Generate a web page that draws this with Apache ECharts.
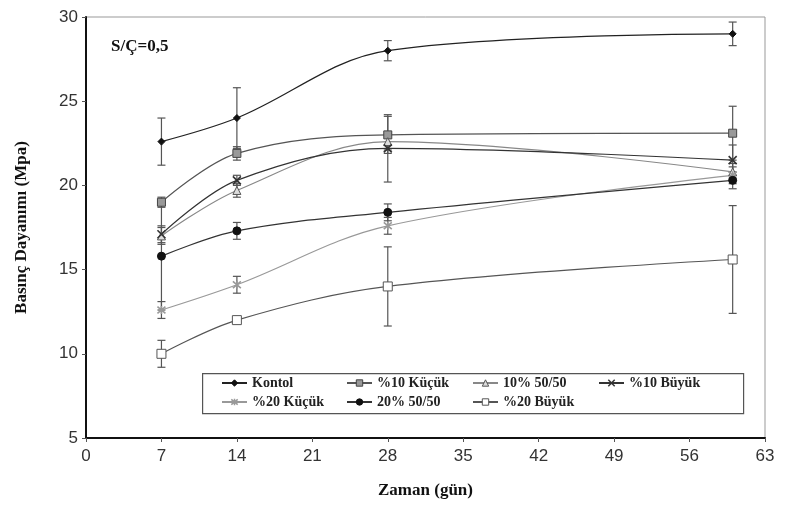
<!DOCTYPE html>
<html><head><meta charset="utf-8">
<script src="https://cdn.jsdelivr.net/npm/echarts@6/dist/echarts.min.js"></script>
<style>html,body{margin:0;padding:0;background:#fff}#c{width:788px;height:511px}</style>
</head><body><div id="c"></div>
<script>
const days = [7, 14, 28, 60];
const names = ['Kontol', '%10 Küçük', '10% 50/50', '%10 Büyük', '%20 Küçük', '20% 50/50', '%20 Büyük'];
const kontrol = [22.6, 24.0, 28.0, 29.0];
const kucuk10 = [19.0, 21.9, 23.0, 23.1];
const mix10 = [17.0, 19.7, 22.6, 20.8];
const buyuk10 = [17.1, 20.3, 22.2, 21.5];
const kucuk20 = [12.6, 14.1, 17.6, 20.6];
const mix20 = [15.8, 17.3, 18.4, 20.3];
const buyuk20 = [10.0, 12.0, 14.0, 15.6];
const kontrolErr = [1.4, 1.8, 0.6, 0.7];
const kucuk10Err = [0.3, 0.4, 1.1, 1.6];
const mix10Err = [0.5, 0.4, 0.5, 0.5];
const buyuk10Err = [0.5, 0.3, 2.0, 0.9];
const kucuk20Err = [0.5, 0.5, 0.5, 0.5];
const mix20Err = [3.2, 0.5, 0.5, 0.5];
const buyuk20Err = [0.8, 0.2, 2.35, 3.2];

const values = [kontrol, kucuk10, mix10, buyuk10, kucuk20, mix20, buyuk20];
const errs = [kontrolErr, kucuk10Err, mix10Err, buyuk10Err, kucuk20Err, mix20Err, buyuk20Err];
const lineColors = ['#222', '#555', '#888', '#333', '#999', '#333', '#555'];
const symbols = ['diamond', 'rect', 'triangle', 'path://M0,0L10,10M10,0L0,10', 'path://M0,0L10,10M10,0L0,10M5,-1L5,11', 'circle', 'rect'];
const symSizes = [7, 8, 8, 8, 8, 8, 9];
const symFill = ['#111', '#999', '#ddd', '#333', '#999', '#111', '#fff'];
const symBorder = ['#111', '#444', '#555', '#333', '#999', '#111', '#555'];
const legendPos = [[221, 376], [346, 376], [472, 376], [598, 376], [221, 395], [346, 395], [472, 395]];

const series = [];
names.forEach((n, i) => {
  series.push({
    type: 'custom', name: n + '_err', silent: true, z: 1,
    data: days.map((d, k) => [d, values[i][k] - errs[i][k], values[i][k] + errs[i][k]]),
    renderItem: (params, api) => {
      const lo = api.coord([api.value(0), api.value(1)]);
      const hi = api.coord([api.value(0), api.value(2)]);
      const w = 4;
      return {type: 'group', children: [
        {type: 'line', shape: {x1: lo[0], y1: lo[1], x2: hi[0], y2: hi[1]}, style: {stroke: '#555', lineWidth: 1.2}},
        {type: 'line', shape: {x1: lo[0]-w, y1: lo[1], x2: lo[0]+w, y2: lo[1]}, style: {stroke: '#555', lineWidth: 1.2}},
        {type: 'line', shape: {x1: hi[0]-w, y1: hi[1], x2: hi[0]+w, y2: hi[1]}, style: {stroke: '#555', lineWidth: 1.2}}
      ]};
    }
  });
  series.push({
    type: 'line', name: n, smooth: 0.35, z: 3,
    data: days.map((d, k) => [d, values[i][k]]),
    symbol: symbols[i], symbolSize: symSizes[i], showSymbol: true,
    lineStyle: {color: lineColors[i], width: 1.2},
    itemStyle: {color: symFill[i], borderColor: symBorder[i], borderWidth: (i === 3 || i === 4) ? 1.6 : 1},
    emphasis: {disabled: true}
  });
});

const legends = names.map((n, i) => ({
  data: [n], left: legendPos[i][0], top: legendPos[i][1], padding: 0, z: 10,
  itemWidth: 25, itemHeight: 8, selectedMode: false,
  itemStyle: {color: symFill[i], borderColor: symBorder[i], borderWidth: (i === 3 || i === 4) ? 1.5 : 1},
  textStyle: {fontFamily: 'Liberation Serif', fontWeight: 'bold', fontSize: 14, color: '#222'}
}));

const chart = echarts.init(document.getElementById('c'), null, {renderer: 'canvas'});
chart.setOption({
  animation: false,
  backgroundColor: '#fff',
  title: {text: 'S/Ç=0,5', left: 106, top: 33, textStyle: {fontFamily: 'Liberation Serif', fontWeight: 'bold', fontSize: 17, color: '#111'}},
  grid: {left: 86, right: 23, top: 17, bottom: 73, show: true, borderColor: '#999', borderWidth: 1},
  graphic: [{type: 'rect', left: 202, top: 373, z: 8, shape: {width: 541, height: 40}, style: {fill: '#fff', stroke: '#555', lineWidth: 1.2}}],
  legend: legends,
  xAxis: {
    type: 'value', min: 0, max: 63, interval: 7,
    name: 'Zaman (gün)', nameLocation: 'middle', nameGap: 44,
    nameTextStyle: {fontFamily: 'Liberation Serif', fontWeight: 'bold', fontSize: 17, color: '#111'},
    axisLine: {show: true, lineStyle: {color: '#111', width: 2}},
    axisTick: {show: true, length: 4, lineStyle: {color: '#555'}},
    axisLabel: {fontFamily: 'Liberation Sans', fontSize: 17, color: '#333', margin: 10},
    splitLine: {show: false}
  },
  yAxis: {
    type: 'value', min: 5, max: 30, interval: 5,
    name: 'Basınç Dayanımı (Mpa)', nameLocation: 'middle', nameGap: 56,
    nameTextStyle: {fontFamily: 'Liberation Serif', fontWeight: 'bold', fontSize: 17, color: '#111'},
    axisLine: {show: true, lineStyle: {color: '#111', width: 2}},
    axisTick: {show: true, length: 4, lineStyle: {color: '#555'}},
    axisLabel: {fontFamily: 'Liberation Sans', fontSize: 17, color: '#333', margin: 8},
    splitLine: {show: false}
  },
  series: series
});
</script></body></html>
